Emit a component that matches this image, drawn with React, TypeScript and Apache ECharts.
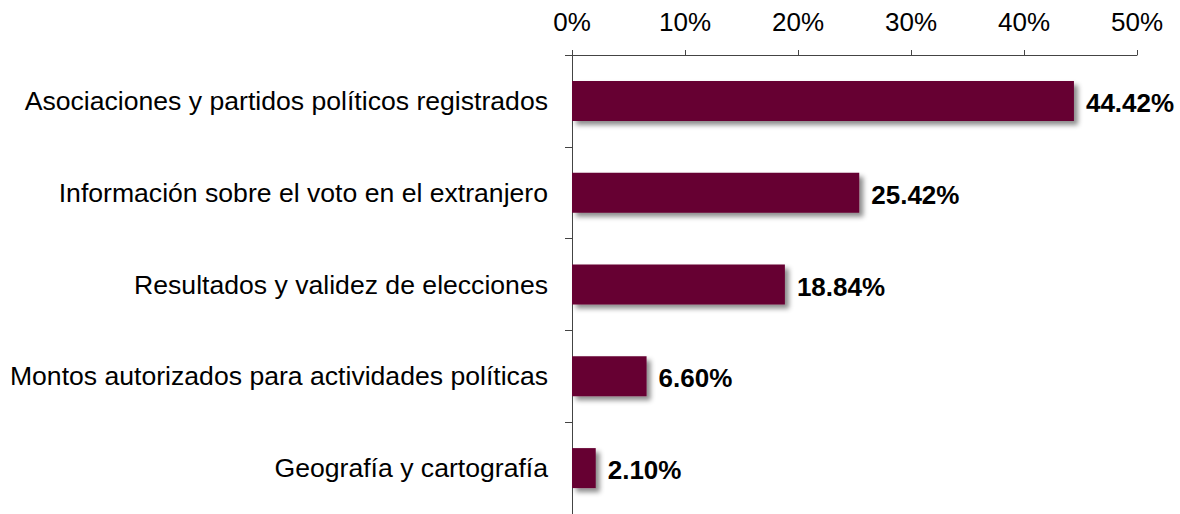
import React, { useEffect, useRef } from "react";
import * as echarts from "echarts";

const categories = [
  "Asociaciones y partidos políticos registrados",
  "Información sobre el voto en el extranjero",
  "Resultados y validez de elecciones",
  "Montos autorizados para actividades políticas",
  "Geografía y cartografía",
];
const values = [44.42, 25.42, 18.84, 6.6, 2.1];

const FONT = "'Liberation Sans', Arial, sans-serif";

export default function App() {
  const ref = useRef<HTMLDivElement>(null);
  useEffect(() => {
    document.body.style.margin = "0";
    const chart = echarts.init(ref.current!, null, { renderer: "svg" });
    chart.setOption({
      animation: false,
      textStyle: { fontFamily: FONT },
      grid: { left: 572, top: 55, width: 565, height: 460, containLabel: false },
      xAxis: {
        type: "value",
        position: "top",
        min: 0,
        max: 50,
        interval: 10,
        splitLine: { show: false },
        axisLine: { show: true, lineStyle: { color: "#444", width: 1 } },
        axisTick: { show: true, length: 5, lineStyle: { color: "#444" } },
        axisLabel: {
          formatter: "{value}%",
          fontSize: 26,
          color: "#000",
          margin: 20,
          fontFamily: FONT,
        },
      },
      yAxis: {
        type: "category",
        data: categories,
        inverse: true,
        axisLine: { show: true, lineStyle: { color: "#444", width: 1 } },
        axisTick: { show: true, length: 7, lineStyle: { color: "#444" } },
        axisLabel: {
          fontSize: 26.6,
          color: "#000",
          margin: 24,
          fontFamily: FONT,
        },
      },
      series: [
        {
          type: "bar",
          data: values,
          barWidth: 40,
          itemStyle: {
            color: "#660033",
            shadowColor: "rgba(0,0,0,0.45)",
            shadowBlur: 5,
            shadowOffsetX: 4,
            shadowOffsetY: 4,
          },
          label: {
            show: true,
            position: "right",
            distance: 12,
            offset: [0, 2],
            formatter: (p: any) => p.value.toFixed(2) + "%",
            fontSize: 26,
            fontWeight: "bold",
            color: "#000",
            fontFamily: FONT,
          },
        },
      ],
    });
    return () => chart.dispose();
  }, []);
  return (
    <div
      ref={ref}
      style={{ position: "absolute", left: 0, top: 0, width: 1180, height: 514, background: "#fff" }}
    />
  );
}
